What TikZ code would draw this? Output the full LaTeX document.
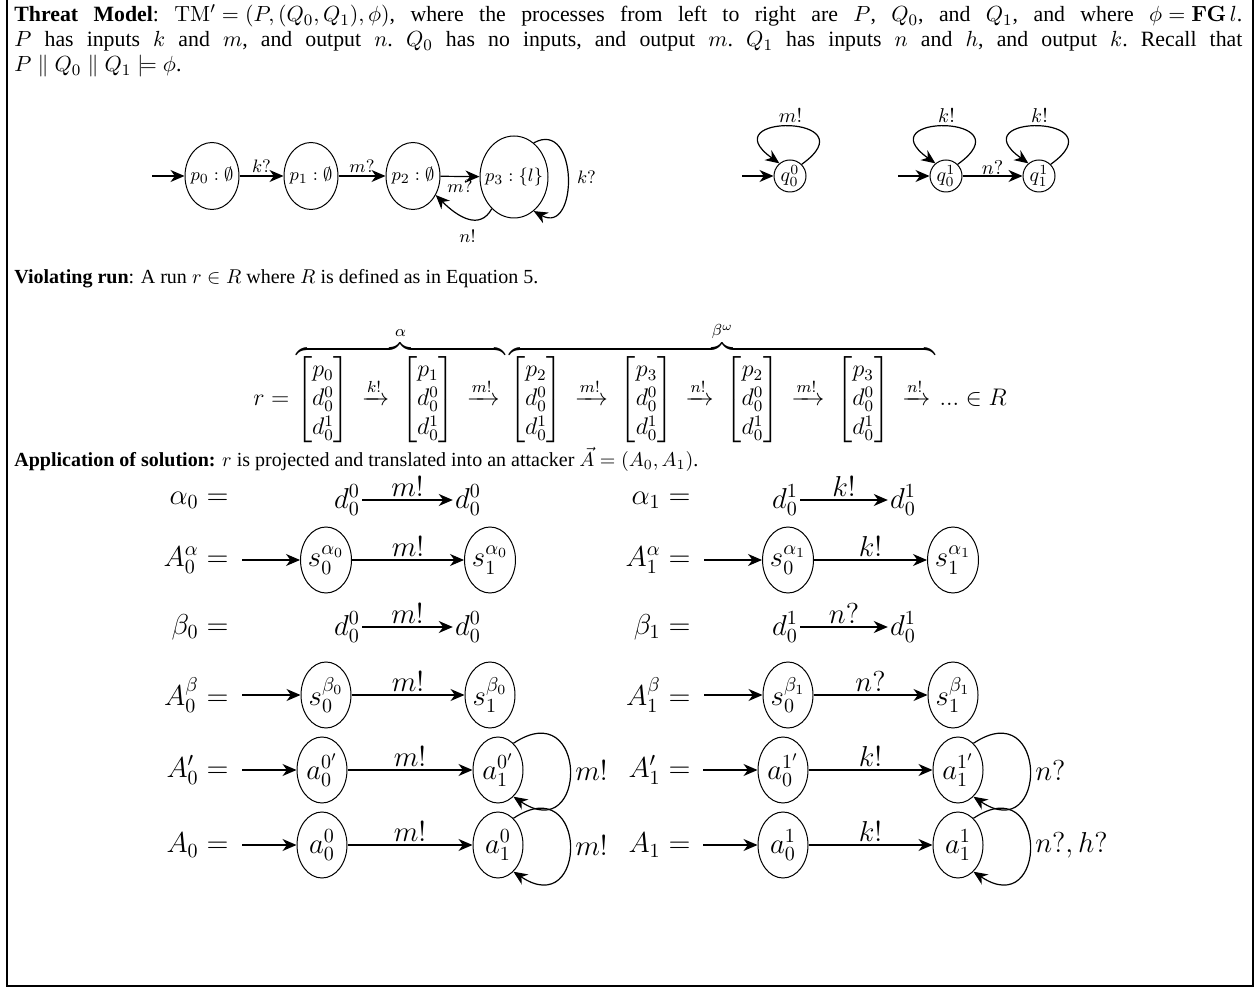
\documentclass[tikz,border=0pt]{standalone}
\usepackage{amsmath,amssymb}
\usepackage[no-math]{fontspec}
\setmainfont{Liberation Serif}
\usetikzlibrary{shapes.geometric,arrows.meta}
\tikzset{
  arr/.style={line width=0.6pt,-{Stealth[length=7pt,width=6pt,inset=2.2pt]}},
  pst/.style={draw,ellipse,line width=0.5pt,minimum width=27pt,minimum height=33.5pt,inner sep=-1.5pt,font=\fontsize{9.5}{11}\selectfont},
  bigst/.style={pst,minimum width=34pt,minimum height=41pt,inner sep=-2.5pt},
  plbl/.style={inner sep=1.5pt,font=\fontsize{9.5}{11}\selectfont},
  qst/.style={draw,circle,line width=0.5pt,minimum size=16pt,inner sep=0pt},
  ast/.style={draw,ellipse,line width=0.5pt,minimum width=25pt,minimum height=33pt,inner sep=0pt,font=\Large},
  lbl/.style={inner sep=1.5pt},
  albl/.style={inner sep=1.5pt,font=\Large},
  rowlbl/.style={anchor=east,font=\Large,inner sep=0pt},
  rowtxt/.style={font=\Large,inner sep=1pt},
  hdrtxt/.style={inner sep=0pt,font=\fontsize{10.9}{12.5}\selectfont},
  txt/.style={inner sep=0pt,font=\fontsize{10}{12}\selectfont},
}
\begin{document}
\begin{tikzpicture}[x=0.5pt,y=-0.5pt]
\useasboundingbox (0,0) rectangle (1258,988);
\draw[line width=0.8pt] (7,-10) -- (7,986) -- (1253,986) -- (1253,-10);
% header text
\node[hdrtxt,anchor=north west,text width=614pt,align=justify] (hdr) at (14,4)
{\frenchspacing\thickmuskip=5mu\medmuskip=4mu\textbf{Threat Model}: $\mathrm{TM}' = (P,(Q_0,Q_1),\phi)$, where the processes from left to right are $P$, $Q_0$, and $Q_1$, and where $\phi=\mathbf{FG}\,l$.\linebreak
$P$ has inputs $k$ and $m$, and output $n$. $Q_0$ has no inputs, and output $m$. $Q_1$ has inputs $n$ and $h$, and output $k$. Recall that\linebreak
$P\parallel Q_0\parallel Q_1\models\phi$.};
% automaton P
\coordinate (pi) at (152,176);
\node[pst] (p0) at (212,176) {$p_0:\emptyset$};
\node[pst] (p1) at (311,176) {$p_1:\emptyset$};
\node[pst] (p2) at (413,176) {$p_2:\emptyset$};
\node[bigst] (p3) at (514,177) {$p_3:\{l\}$};
\draw[arr] (pi) -- (p0);
\draw[arr] (p0) -- node[plbl,above] {$k?$} (p1);
\draw[arr] (p1) -- node[plbl,above] {$m?$} (p2);
\draw[arr] (p2) -- node[plbl,below] {$m?$} (p3);
\draw[arr] (p3.235) .. controls +(-12,22) and +(22,22) .. node[plbl,below=4pt] {$n!$} (p2.-40);
\draw[arr] (p3.60) .. controls +(45,-25) and +(45,25) .. node[plbl,right=3pt] {$k?$} (p3.-60);
% automaton Q0
\coordinate (q0i) at (742,176);
\node[qst] (q00) at (790,176) {$q_0^0$};
\draw[arr] (q0i) -- (q00);
\draw[arr] (q00.45) .. controls +(70,-50) and +(-70,-50) .. node[lbl,above] {$m!$} (q00.130);
% automaton Q1
\coordinate (q1i) at (898,176);
\node[qst] (q01) at (946,176) {$q_0^1$};
\node[qst] (q11) at (1039,176) {$q_1^1$};
\draw[arr] (q1i) -- (q01);
\draw[arr] (q01) -- node[lbl,above=-1pt] {$n?$} (q11);
\draw[arr] (q01.45) .. controls +(70,-50) and +(-70,-50) .. node[lbl,above] {$k!$} (q01.130);
\draw[arr] (q11.45) .. controls +(70,-50) and +(-70,-50) .. node[lbl,above] {$k!$} (q11.130);
% violating run
\node[txt,anchor=base west] (vr) at (14,284) {\textbf{Violating run}: A run $r\in R$ where $R$ is defined as in Equation 5.};
\node[anchor=base,inner sep=0pt,font=\fontsize{12}{14.5}\selectfont] (run) at (630,406)
{$r=\overbrace{\begin{bmatrix}p_0\\d_0^0\\d_0^1\end{bmatrix}\mkern4mu\xrightarrow{k!}\mkern4mu\begin{bmatrix}p_1\\d_0^0\\d_0^1\end{bmatrix}\mkern4mu\xrightarrow{m!}\mkern4mu}^{\alpha}
\overbrace{\begin{bmatrix}p_2\\d_0^0\\d_0^1\end{bmatrix}\mkern4mu\xrightarrow{m!}\mkern4mu\begin{bmatrix}p_3\\d_0^0\\d_0^1\end{bmatrix}\mkern4mu\xrightarrow{n!}\mkern4mu\begin{bmatrix}p_2\\d_0^0\\d_0^1\end{bmatrix}\mkern4mu\xrightarrow{m!}\mkern4mu\begin{bmatrix}p_3\\d_0^0\\d_0^1\end{bmatrix}\mkern4mu\xrightarrow{n!}\mkern4mu}^{\beta^\omega}...\in R$};
% application
\node[txt,anchor=base west] (app) at (14,467) {\textbf{Application of solution:} $r$ is projected and translated into an attacker $\vec{A}=(A_0,A_1)$.};
% alpha row
\node[rowlbl] (la0) at (229,500) {$\alpha_0=$};
\node[rowtxt] (da0) at (347,500) {$d_0^0$};
\node[rowtxt] (db0) at (468,500) {$d_0^0$};
\draw[arr] (da0) -- node[albl,above] {$m!$} (db0);
\node[rowlbl] (la1) at (691,500) {$\alpha_1=$};
\node[rowtxt] (da1) at (785,500) {$d_0^1$};
\node[rowtxt] (db1) at (903,500) {$d_0^1$};
\draw[arr] (da1) -- node[albl,above] {$k!$} (db1);
% A alpha row
\node[rowlbl] (lA0) at (229,560) {$A_0^\alpha=$};
\coordinate (iA0) at (242,560);
\node[ast] (sA0) at (326,560) {$s_0^{\alpha_0}$};
\node[ast] (tA0) at (490,560) {$s_1^{\alpha_0}$};
\draw[arr] (iA0) -- (sA0);
\draw[arr] (sA0) -- node[albl,above] {$m!$} (tA0);
\node[rowlbl] (lA1) at (691,560) {$A_1^\alpha=$};
\coordinate (iA1) at (704,560);
\node[ast] (sA1) at (788,560) {$s_0^{\alpha_1}$};
\node[ast] (tA1) at (953,560) {$s_1^{\alpha_1}$};
\draw[arr] (iA1) -- (sA1);
\draw[arr] (sA1) -- node[albl,above] {$k!$} (tA1);
% beta row
\node[rowlbl] (lb0) at (229,627) {$\beta_0=$};
\node[rowtxt] (dc0) at (347,627) {$d_0^0$};
\node[rowtxt] (dd0) at (468,627) {$d_0^0$};
\draw[arr] (dc0) -- node[albl,above] {$m!$} (dd0);
\node[rowlbl] (lb1) at (691,627) {$\beta_1=$};
\node[rowtxt] (dc1) at (785,627) {$d_0^1$};
\node[rowtxt] (dd1) at (903,627) {$d_0^1$};
\draw[arr] (dc1) -- node[albl,above] {$n?$} (dd1);
% A beta row
\node[rowlbl] (lB0) at (229,695) {$A_0^\beta=$};
\coordinate (iB0) at (242,695);
\node[ast] (sB0) at (326,695) {$s_0^{\beta_0}$};
\node[ast] (tB0) at (490,695) {$s_1^{\beta_0}$};
\draw[arr] (iB0) -- (sB0);
\draw[arr] (sB0) -- node[albl,above] {$m!$} (tB0);
\node[rowlbl] (lB1) at (691,695) {$A_1^\beta=$};
\coordinate (iB1) at (704,695);
\node[ast] (sB1) at (788,695) {$s_0^{\beta_1}$};
\node[ast] (tB1) at (953,695) {$s_1^{\beta_1}$};
\draw[arr] (iB1) -- (sB1);
\draw[arr] (sB1) -- node[albl,above] {$n?$} (tB1);
% A' row
\node[rowlbl] (lP0) at (229,770) {$A_0'=$};
\coordinate (iP0) at (242,770);
\node[ast] (aP0) at (322,770) {$a_0^{0'}$};
\node[ast] (bP0) at (498,770) {$a_1^{0'}$};
\draw[arr] (iP0) -- (aP0);
\draw[arr] (aP0) -- node[albl,above] {$m!$} (bP0);
\draw[arr] (bP0.60) .. controls +(75,-50) and +(75,50) .. node[albl,right=1pt] {$m!$} (bP0.-60);
\node[rowlbl] (lP1) at (691,770) {$A_1'=$};
\coordinate (iP1) at (703,770);
\node[ast] (aP1) at (783,770) {$a_0^{1'}$};
\node[ast] (bP1) at (958,770) {$a_1^{1'}$};
\draw[arr] (iP1) -- (aP1);
\draw[arr] (aP1) -- node[albl,above] {$k!$} (bP1);
\draw[arr] (bP1.60) .. controls +(75,-50) and +(75,50) .. node[albl,right=1pt] {$n?$} (bP1.-60);
% A row
\node[rowlbl] (lQ0) at (229,845) {$A_0=$};
\coordinate (iQ0) at (242,845);
\node[ast] (aQ0) at (322,845) {$a_0^{0}$};
\node[ast] (bQ0) at (498,845) {$a_1^{0}$};
\draw[arr] (iQ0) -- (aQ0);
\draw[arr] (aQ0) -- node[albl,above] {$m!$} (bQ0);
\draw[arr] (bQ0.60) .. controls +(75,-50) and +(75,50) .. node[albl,right=1pt] {$m!$} (bQ0.-60);
\node[rowlbl] (lQ1) at (691,845) {$A_1=$};
\coordinate (iQ1) at (703,845);
\node[ast] (aQ1) at (783,845) {$a_0^{1}$};
\node[ast] (bQ1) at (958,845) {$a_1^{1}$};
\draw[arr] (iQ1) -- (aQ1);
\draw[arr] (aQ1) -- node[albl,above] {$k!$} (bQ1);
\draw[arr] (bQ1.60) .. controls +(75,-50) and +(75,50) .. node[albl,right=1pt] {$n?,h?$} (bQ1.-60);
\end{tikzpicture}
\end{document}
